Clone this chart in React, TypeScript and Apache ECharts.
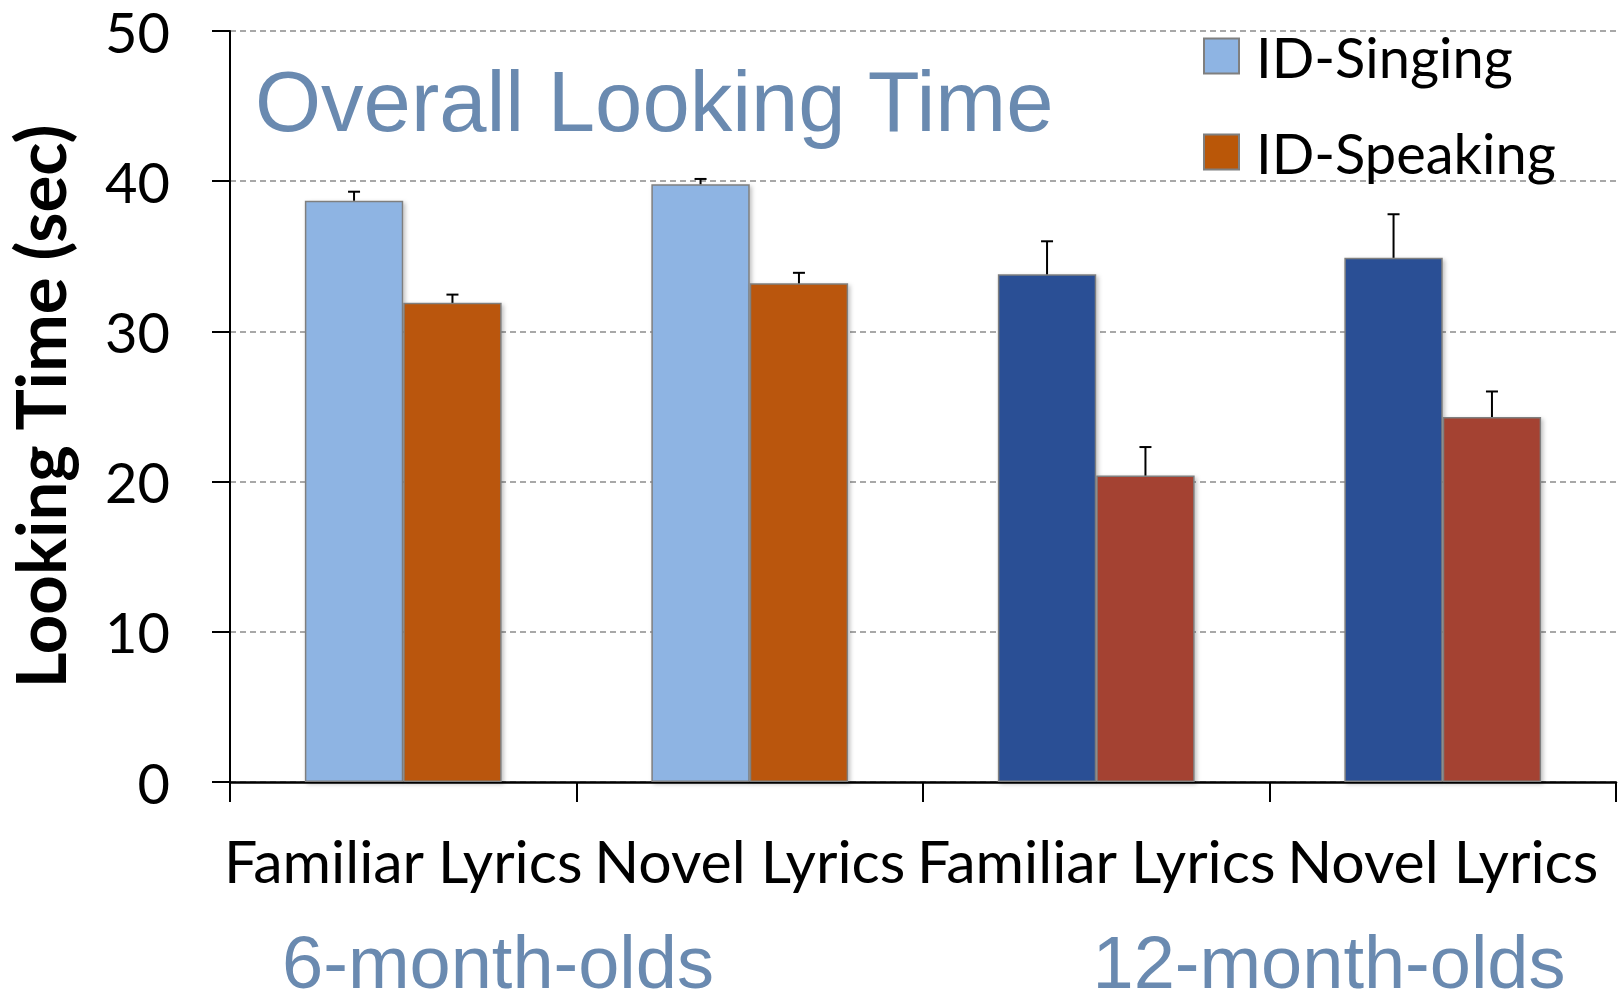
import React, { useEffect, useRef } from 'react';
import * as echarts from 'echarts';

const categories = ['Familiar Lyrics', 'Novel Lyrics', 'Familiar Lyrics', 'Novel Lyrics'];
const seriesNames = ['ID-Singing', 'ID-Speaking'];
const singingValues = [38.7, 39.8, 33.8, 34.9];
const singingErrors = [0.6, 0.35, 2.2, 2.9];
const speakingValues = [31.9, 33.2, 20.4, 24.3];
const speakingErrors = [0.55, 0.7, 1.9, 1.7];
const singingColors = ['#8EB4E3', '#8EB4E3', '#2A5095', '#2A5095'];
const speakingColors = ['#BA5708', '#BA5708', '#A44231', '#A44231'];
const groupLabels = ['6-month-olds', '12-month-olds'];
const chartTitle = 'Overall Looking Time';
const yAxisName = 'Looking Time (sec)';
const yMin = 0;
const yMax = 50;
const yInterval = 10;

const BAR_FRAC = 0.284;

function errorSeries(name: string, values: number[], errors: number[], sign: number) {
  return {
    type: 'custom',
    name: name + ' error',
    z: 5,
    silent: true,
    data: values.map((v, i) => [i, v, v + errors[i]]),
    encode: { x: 0, y: [1, 2] },
    renderItem: (params: any, api: any) => {
      const base = api.coord([api.value(0), api.value(1)]);
      const top = api.coord([api.value(0), api.value(2)]);
      const catW = api.size([1, 0])[0];
      const xc = base[0] + sign * catW * BAR_FRAC / 2;
      const style = { stroke: '#000', lineWidth: 2 };
      return {
        type: 'group',
        children: [
          { type: 'line', shape: { x1: xc, y1: base[1], x2: xc, y2: top[1] }, style },
          { type: 'line', shape: { x1: xc - 6, y1: top[1], x2: xc + 6, y2: top[1] }, style },
        ],
      };
    },
  };
}

export default function App() {
  const ref = useRef<HTMLDivElement>(null);
  useEffect(() => {
    if (!ref.current) return;
    const chart = echarts.init(ref.current, null, { renderer: 'svg' });
    const barBorder = { borderColor: '#7F7F7F', borderWidth: 1.5, shadowBlur: 4, shadowColor: 'rgba(0,0,0,0.25)', shadowOffsetX: 2, shadowOffsetY: 2 };
    chart.setOption({
      animation: false,
      backgroundColor: '#fff',
      title: {
        text: chartTitle,
        left: 250,
        top: 54,
        textStyle: { fontFamily: 'Liberation Sans', fontSize: 85, fontWeight: 'normal', color: '#6A8AB0', lineHeight: 85 },
      },
      legend: {
        orient: 'vertical',
        left: 1198,
        top: 15,
        itemWidth: 35,
        itemHeight: 35,
        itemGap: 24,
        icon: 'rect',
        data: seriesNames,
        textStyle: { fontFamily: 'Lato', fontSize: 56, lineHeight: 56, color: '#000', padding: [0, 0, 16, 12] },
      },
      grid: { left: 230, right: 8, top: 31, bottom: 212, containLabel: false, outerBoundsMode: 'none' },
      xAxis: {
        type: 'category',
        data: categories,
        axisLine: { lineStyle: { color: '#000', width: 2.5 } },
        axisTick: { show: true, length: 20, lineStyle: { color: '#000', width: 2 } },
        axisLabel: { fontFamily: 'Lato', fontSize: 59, lineHeight: 59, color: '#000', margin: 49, interval: 0 },
      },
      yAxis: {
        type: 'value',
        min: yMin,
        max: yMax,
        interval: yInterval,
        name: yAxisName,
        nameLocation: 'middle',
        nameRotate: 90,
        nameGap: 163,
        nameTextStyle: { fontFamily: 'Lato', fontSize: 69, lineHeight: 56, fontWeight: 'bold', color: '#000' },
        axisLine: { show: true, lineStyle: { color: '#000', width: 2 } },
        axisTick: { show: true, length: 18, lineStyle: { color: '#000', width: 2 } },
        axisLabel: { fontFamily: 'Lato', fontSize: 56, lineHeight: 48, color: '#000', margin: 60 },
        splitLine: { show: true, lineStyle: { color: '#8C8C8C', width: 1.5, type: [6, 4] } },
      },
      graphic: [
        {
          type: 'text',
          x: 498,
          y: 962,
          style: { text: groupLabels[0], fontFamily: 'Liberation Sans', fontSize: 74, lineHeight: 54, fill: '#6A8AB0', align: 'center', verticalAlign: 'middle' },
        },
        {
          type: 'text',
          x: 1329,
          y: 962,
          style: { text: groupLabels[1], fontFamily: 'Liberation Sans', fontSize: 74, lineHeight: 54, fill: '#6A8AB0', align: 'center', verticalAlign: 'middle' },
        },
      ],
      series: [
        {
          type: 'bar',
          name: seriesNames[0],
          barWidth: (BAR_FRAC * 100) + '%',
          barGap: '0%',
          itemStyle: { color: singingColors[0], ...barBorder },
          data: singingValues.map((v, i) => ({ value: v, itemStyle: { color: singingColors[i] } })),
        },
        {
          type: 'bar',
          name: seriesNames[1],
          barWidth: (BAR_FRAC * 100) + '%',
          barGap: '0%',
          itemStyle: { color: speakingColors[0], ...barBorder },
          data: speakingValues.map((v, i) => ({ value: v, itemStyle: { color: speakingColors[i] } })),
        },
        errorSeries(seriesNames[0], singingValues, singingErrors, -1),
        errorSeries(seriesNames[1], speakingValues, speakingErrors, 1),
      ],
    });
    return () => chart.dispose();
  }, []);
  return <div ref={ref} style={{ position: 'absolute', left: 0, top: 0, width: 1624, height: 994 }} />;
}
